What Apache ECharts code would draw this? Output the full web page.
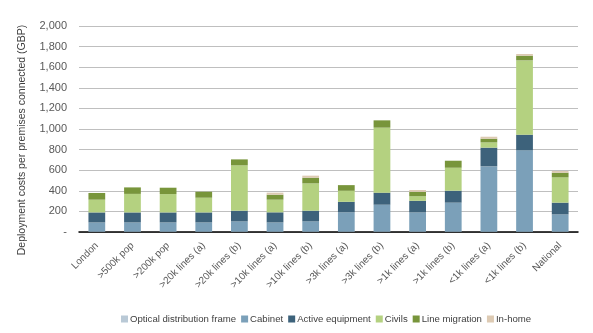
<!DOCTYPE html>
<html><head><meta charset="utf-8">
<script src="https://cdn.jsdelivr.net/npm/echarts@6/dist/echarts.min.js"></script>
<style>html,body{margin:0;padding:0;background:#fff}#c{width:593px;height:333px}</style>
</head><body><div id="c"></div>
<script>
const categories = ['London','>500k pop','>200k pop','>20k lines (a)','>20k lines (b)','>10k lines (a)','>10k lines (b)','>3k lines (a)','>3k lines (b)','>1k lines (a)','>1k lines (b)','<1k lines (a)','<1k lines (b)','National'];
const odf        = [3,3,3,3,3,3,3,3,3,3,3,3,3,3];
const cabinet    = [90,90,90,90,100,90,100,188,262,187,282,634,790,168];
const activeEq   = [97,97,97,97,104,98,104,102,117,113,116,182,152,114];
const civils     = [124,180,178,143,440,123,265,107,631,44,223,51,721,245];
const lineMigr   = [65,63,62,58,58,48,55,55,71,43,68,36,46,46];
const inHome     = [0,0,0,0,0,20,20,0,0,18,0,19,16,16];
const yTicks = [0,200,400,600,800,1000,1200,1400,1600,1800,2000];
const yTitle = 'Deployment costs per premises connected (GBP)';

const names = ['Optical distribution frame','Cabinet','Active equipment','Civils','Line migration','In-home'];
const colors = ['#b9c9d6','#7ba0b9','#3d627b','#b4d180','#78953b','#ddcab3'];
const data = [odf,cabinet,activeEq,civils,lineMigr,inHome];

const chart = echarts.init(document.getElementById('c'));
chart.setOption({
  animation:false,
  textStyle:{fontFamily:'Liberation Sans, Arial, sans-serif'},
  grid:{left:79,right:15,top:26,bottom:101},
  graphic:[{type:'text',x:22,y:140,rotation:Math.PI/2,
    style:{text:yTitle,fontSize:10.5,fill:'#404040',fontFamily:'Liberation Sans, Arial, sans-serif',
      textAlign:'center',textVerticalAlign:'middle'}}],
  legend:{top:309,left:116,itemWidth:7,itemHeight:7,itemGap:5,
    textStyle:{fontSize:9.6,color:'#404040',padding:[0,0,0,-3]},
    icon:'rect',data:names},
  xAxis:{type:'category',data:categories,
    axisLine:{lineStyle:{color:'#000',width:1.5}},axisTick:{show:false},
    axisLabel:{rotate:45,fontSize:10,color:'#595959',interval:0,margin:12}},
  yAxis:{type:'value',min:0,max:2000,interval:200,
    axisLine:{show:false},axisTick:{show:false},
    axisLabel:{fontSize:11,color:'#595959',margin:12,
      formatter:v=>v===0?'-':v.toLocaleString('en-US')},
    splitLine:{lineStyle:{color:'#bfbfbf'}}},
  series:names.map((n,i)=>({name:n,type:'bar',stack:'t',data:data[i],
    barWidth:'47%',itemStyle:{color:colors[i]}}))
});
</script></body></html>
